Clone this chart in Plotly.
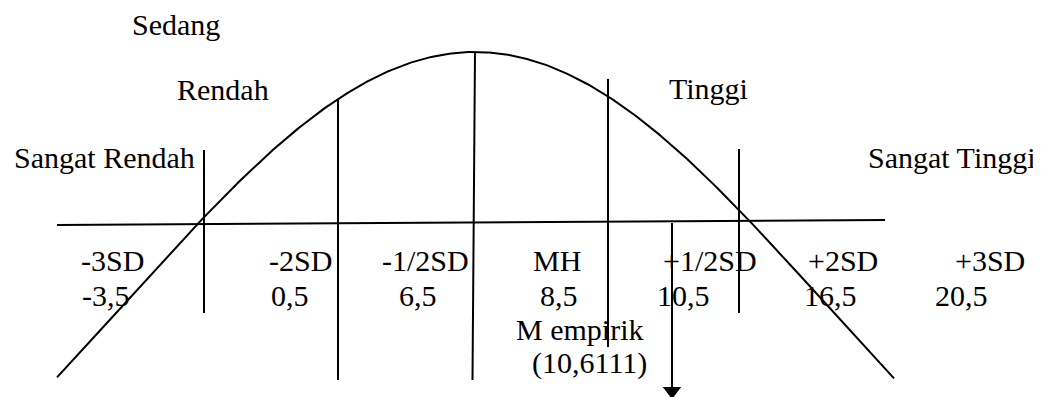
import numpy as np
import plotly.graph_objects as go

# ---- data (labels / values) ----
category_labels = ["Sangat Rendah", "Rendah", "Sedang", "Tinggi", "Sangat Tinggi"]
sd_labels = ["-3SD", "-2SD", "-1/2SD", "MH", "+1/2SD", "+2SD", "+3SD"]
score_labels = ["-3,5", "0,5", "6,5", "8,5", "10,5", "16,5", "20,5"]
empirical_label = "M empirik"
empirical_value = "(10,6111)"

# ---- layout positions (diagram units = pixels of the browser window) ----
W, H = 1041, 397
PAGE_OFFSET = 8  # default body margin of the html page
cat_pos = [(104, 157), (223, 89), (175.5, 24), (708, 88), (951.5, 157)]
sd_x = [112, 300.5, 425, 556.5, 710, 843, 989.5]
score_x = [105.5, 290, 418, 559, 683.5, 830, 961]
row_sd_y, row_score_y = 260.5, 295
emp_pos = (579.5, 329)
emp_val_pos = (589, 363)

# bell curve: normal density, centre/spread/amplitude in diagram units
curve_mu, curve_sigma = 475, 350
curve_base, curve_amp = 690, 638
curve_x0, curve_x1 = 57, 894

# divider lines (top, bottom)
dividers = [((204, 150), (204, 313)), ((338, 99), (338, 380)), ((475, 52), (472.5, 380)),
            ((608, 79), (608, 347)), ((739, 149), (739, 313))]
baseline = ((57, 225), (885, 220))
arrow_x, arrow_top, arrow_tip = 672, 223, 397

FONT = "Liberation Serif"
FS = 30

fig = go.Figure()
xs = np.linspace(curve_x0, curve_x1, 400)
ys = curve_base - curve_amp * np.exp(-((xs - curve_mu) ** 2) / (2 * curve_sigma ** 2))
line_style = dict(color="black", width=2)
fig.add_trace(go.Scatter(x=xs, y=ys, mode="lines", line=line_style, hoverinfo="skip"))
fig.add_trace(go.Scatter(x=[baseline[0][0], baseline[1][0]], y=[baseline[0][1], baseline[1][1]],
                         mode="lines", line=line_style, hoverinfo="skip"))
for (x0, y0), (x1, y1) in dividers:
    fig.add_trace(go.Scatter(x=[x0, x1], y=[y0, y1], mode="lines", line=line_style, hoverinfo="skip"))
# arrow for M empirik
fig.add_trace(go.Scatter(x=[arrow_x, arrow_x], y=[arrow_top, arrow_tip - 8], mode="lines",
                         line=line_style, hoverinfo="skip"))
fig.add_trace(go.Scatter(x=[arrow_x], y=[arrow_tip - 6], mode="markers",
                         marker=dict(symbol="triangle-down", size=16, color="black"),
                         hoverinfo="skip", cliponaxis=False))

ann = []
def txt(t, x, y):
    ann.append(dict(text=t, x=x, y=y, xref="x", yref="y", xanchor="center", yanchor="middle",
                    showarrow=False, font=dict(family=FONT, size=FS, color="black")))

for lab, (x, y) in zip(category_labels, cat_pos):
    txt(lab, x, y)
for lab, x in zip(sd_labels, sd_x):
    txt(lab, x, row_sd_y)
for lab, x in zip(score_labels, score_x):
    txt(lab, x, row_score_y)
txt(empirical_label, *emp_pos)
txt(empirical_value, *emp_val_pos)

fig.update_layout(
    width=W, height=H, margin=dict(l=0, r=0, t=0, b=0),
    paper_bgcolor="white", plot_bgcolor="white", showlegend=False,
    xaxis=dict(range=[PAGE_OFFSET, W + PAGE_OFFSET], visible=False, fixedrange=True),
    yaxis=dict(range=[H + PAGE_OFFSET, PAGE_OFFSET], visible=False, fixedrange=True),
    annotations=ann,
)
fig.write_html("out.html", config={"displayModeBar": False})
